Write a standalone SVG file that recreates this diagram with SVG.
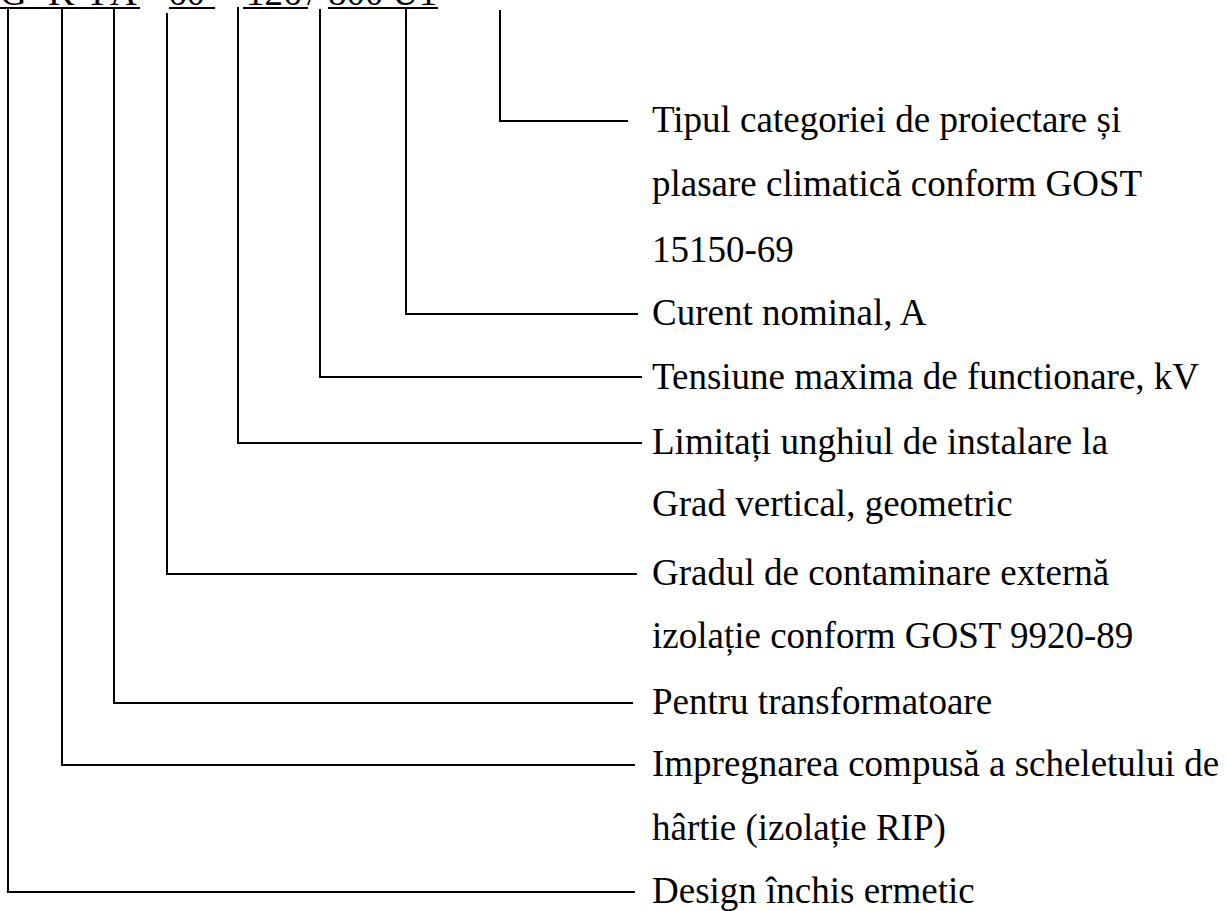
<svg xmlns="http://www.w3.org/2000/svg" width="1227" height="911" viewBox="0 0 1227 911">
<style>
.t{font-family:"Liberation Serif","Times New Roman",serif;font-size:37px;fill:#000}
.c{stroke:#000;stroke-width:2;fill:none}
</style>
<rect width="1227" height="911" fill="#fff"/>
<g id="code">
<text class="t" y="5"><tspan x="0">G</tspan><tspan x="48">K</tspan><tspan x="86">T</tspan><tspan x="110">A</tspan><tspan x="168">60</tspan><tspan x="246">126</tspan><tspan x="307">/</tspan><tspan x="328">800</tspan><tspan x="392">U1</tspan></text>
<path class="c" d="M0 8H140M169 8H215M243 8H308M328 8H438"/>
</g>
<g id="connectors">
<path class="c" d="M500 10V121H628"/>
<path class="c" d="M406 9V314H638"/>
<path class="c" d="M320 9V377H642"/>
<path class="c" d="M238 7V443H642"/>
<path class="c" d="M167 13V574H637"/>
<path class="c" d="M114 9V703H633"/>
<path class="c" d="M62 9V765H635"/>
<path class="c" d="M8 9V892H635"/>
</g>
<g id="n-tip"><text class="t" x="652" y="132">Tipul categoriei de proiectare și</text><text class="t" x="652" y="196">plasare climatică conform GOST</text><text class="t" x="652" y="262">15150-69</text></g>
<g id="n-curent"><text class="t" x="652" y="325">Curent nominal, A</text></g>
<g id="n-tensiune"><text class="t" x="652" y="389">Tensiune maxima de functionare, kV</text></g>
<g id="n-unghi"><text class="t" x="652" y="454">Limitați unghiul de instalare la</text><text class="t" x="652" y="516">Grad vertical, geometric</text></g>
<g id="n-contaminare"><text class="t" x="652" y="585">Gradul de contaminare externă</text><text class="t" x="652" y="648">izolație conform GOST 9920-89</text></g>
<g id="n-transf"><text class="t" x="652" y="714">Pentru transformatoare</text></g>
<g id="n-impreg"><text class="t" x="652" y="776">Impregnarea compusă a scheletului de</text><text class="t" x="652" y="840">hârtie (izolație RIP)</text></g>
<g id="n-design"><text class="t" x="652" y="903">Design închis ermetic</text></g>
</svg>
